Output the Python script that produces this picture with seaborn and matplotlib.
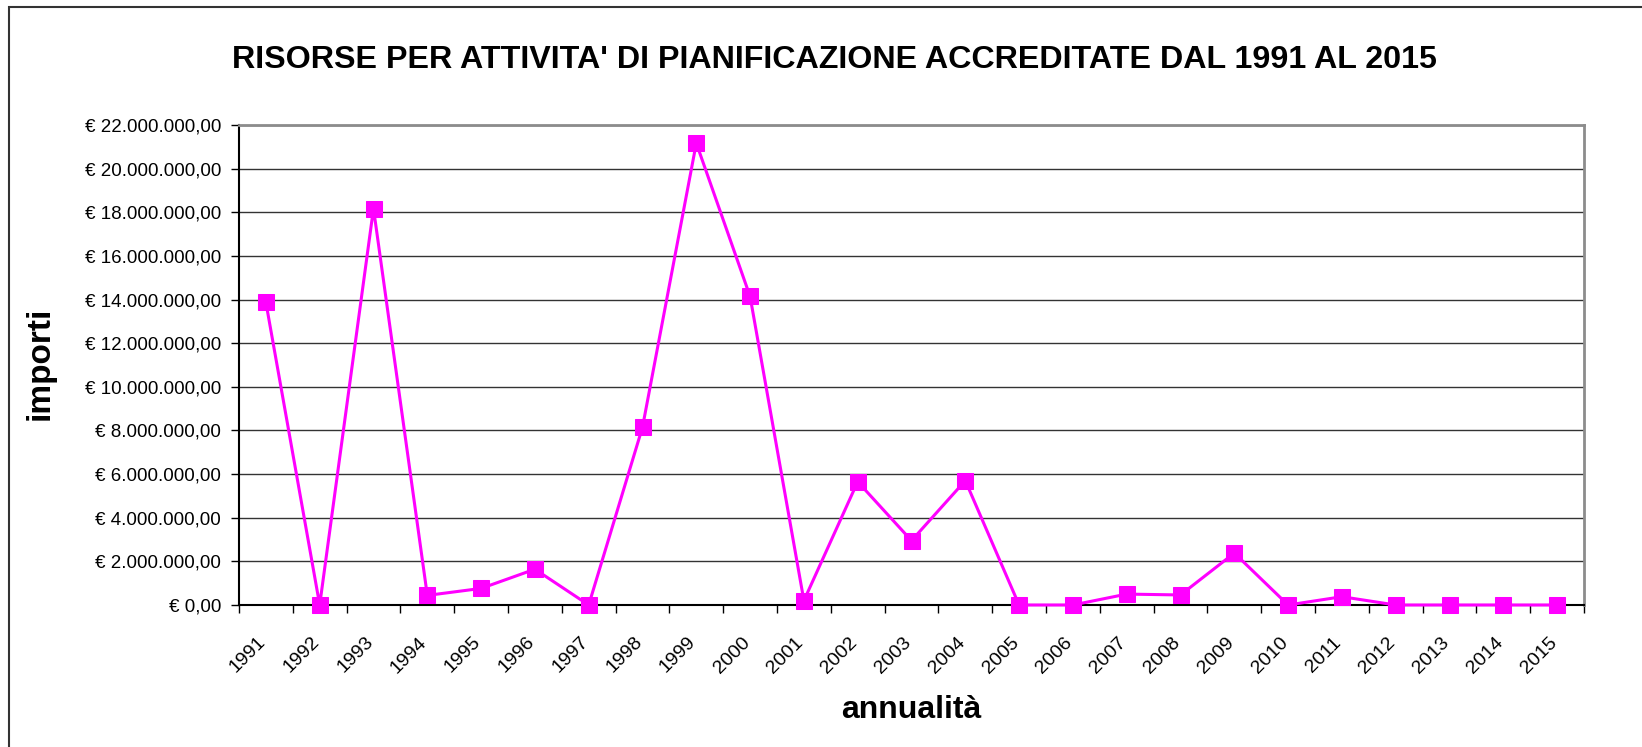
import pandas as pd
import numpy as np
import seaborn as sns
import matplotlib
matplotlib.use("Agg")
import matplotlib.pyplot as plt
from matplotlib.transforms import ScaledTranslation
from matplotlib.patches import Rectangle

# dati
anni = list(range(1991, 2016))
importi = [13870000, 0, 18170000, 440000, 760000, 1640000, 0, 8150000,
           21170000, 14140000, 200000, 5650000, 2950000, 5700000, 0, 0,
           500000, 460000, 2380000, 0, 380000, 0, 0, 0, 0]
y_ticks = list(range(0, 22000001, 2000000))

titolo = "RISORSE PER ATTIVITA' DI PIANIFICAZIONE ACCREDITATE DAL 1991 AL 2015"

df = pd.DataFrame({"anno": anni, "importo": importi})

sns.set_style("white")
plt.rcParams['font.family'] = ['Liberation Sans', 'DejaVu Sans']
plt.rcParams['text.color'] = 'black'
plt.rcParams['xtick.color'] = 'black'
plt.rcParams['ytick.color'] = 'black'

fig = plt.figure(figsize=(16.42, 7.47), dpi=100)
ax = fig.add_axes([239/1642, 1 - 605/747, (1584 - 239)/1642, (605 - 125)/747])

sns.lineplot(data=df, x="anno", y="importo", ax=ax, color="#FF00FF",
             linewidth=2.2, marker="s", markersize=11,
             markeredgecolor="#FF00FF", zorder=5)
ax.lines[0].set_clip_on(False)

# assi
ax.set_xlim(1990.5, 2015.5)
ax.set_ylim(0, 22000000)
ax.set_yticks(y_ticks)

def euro(v):
    s = f"{v:,.2f}".replace(",", "X").replace(".", ",").replace("X", ".")
    return "€ " + s

ax.set_yticklabels([euro(v) for v in y_ticks], fontsize=13.5)
ax.set_xticks(anni)
ax.set_xticklabels([str(a) for a in anni], fontsize=14, rotation=45,
                   ha="right", va="center", rotation_mode="anchor")
ax.set_xticks(np.arange(1990.5, 2016, 1), minor=True)
ax.tick_params(axis="x", which="major", length=0, pad=25)
ax.tick_params(axis="x", which="minor", length=6, width=1, color="black",
               direction="out", bottom=True)
ax.tick_params(axis="y", length=6, width=1, color="black", direction="out",
               left=True, pad=7)
offset = ScaledTranslation(-3/100, 0, fig.dpi_scale_trans)
for lab in ax.get_xticklabels():
    lab.set_transform(lab.get_transform() + offset)

ax.grid(axis="y", color="#333333", linewidth=1.0)
ax.grid(axis="x", visible=False)
ax.set_axisbelow(True)

for s in ["left", "bottom"]:
    ax.spines[s].set_color("black")
    ax.spines[s].set_linewidth(1.5)
for s in ["top", "right"]:
    ax.spines[s].set_color("#8c8c8c")
    ax.spines[s].set_linewidth(2)

ax.set_xlabel("")
ax.set_ylabel("")
fig.text(911/1642, 1 - 710/747, "annualità", fontsize=23, fontweight="bold",
         ha="center", va="center")
fig.text(40/1642, 1 - 363/747, "importi", fontsize=24, fontweight="bold",
         ha="center", va="center", rotation=90)
fig.text(834/1642, 1 - 60/747, titolo, fontsize=23.2, fontweight="bold",
         ha="center", va="center")

# bordo esterno del grafico
fig.add_artist(Rectangle((9/1642, -0.5), 2, 1.5 - 7/747, fill=False,
                         edgecolor="#333333", linewidth=1.5,
                         transform=fig.transFigure, clip_on=False))

fig.savefig("out.png", dpi=100)
